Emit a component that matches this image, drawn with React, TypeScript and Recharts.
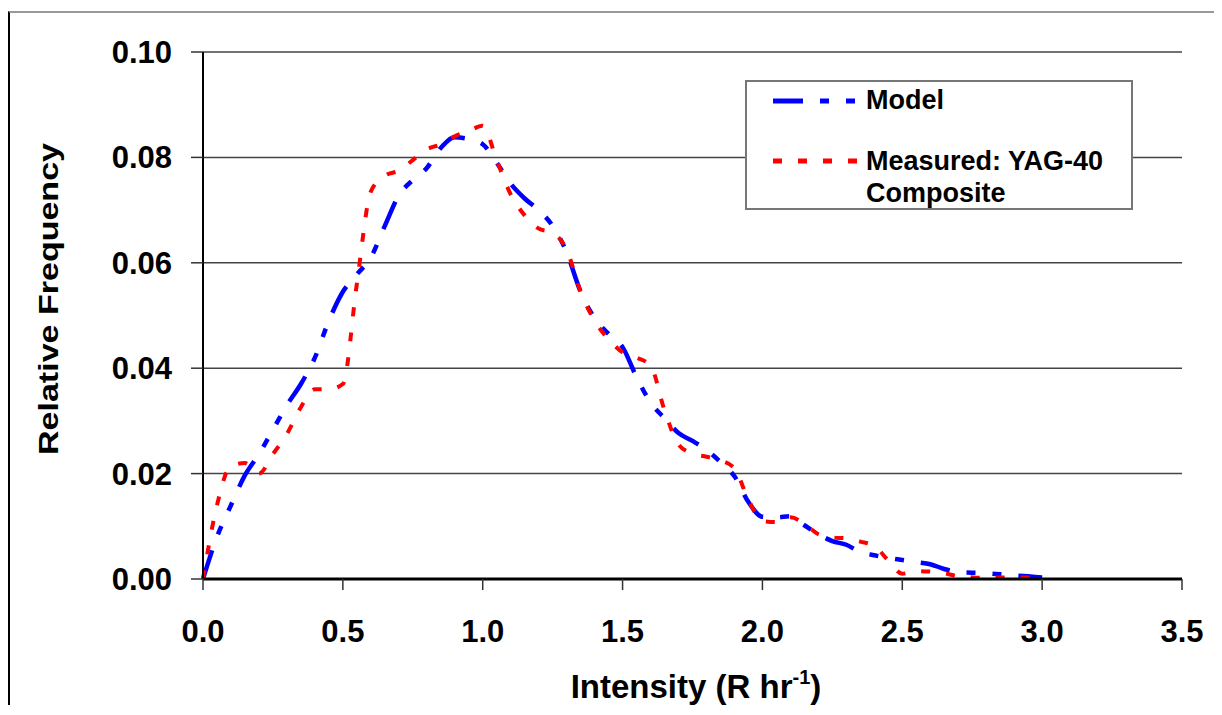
import React from "react";
import { LineChart, Line, XAxis, YAxis, CartesianGrid } from "recharts";

// intensity (R/hr), 0.05 steps
const intensity = [
  0.0, 0.05, 0.1, 0.15, 0.2, 0.25, 0.3, 0.35, 0.4, 0.45,
  0.5, 0.55, 0.6, 0.65, 0.7, 0.75, 0.8, 0.85, 0.9, 0.95,
  1.0, 1.05, 1.1, 1.15, 1.2, 1.25, 1.3, 1.35, 1.4, 1.45,
  1.5, 1.55, 1.6, 1.65, 1.7, 1.75, 1.8, 1.85, 1.9, 1.95,
  2.0, 2.05, 2.1, 2.15, 2.2, 2.25, 2.3, 2.35, 2.4, 2.45,
  2.5, 2.55, 2.6, 2.65, 2.7, 2.75, 2.8, 2.85, 2.9, 2.95, 3.0,
];

const model = [
  0.0, 0.008, 0.014, 0.0197, 0.0237, 0.0283, 0.033, 0.037, 0.042, 0.049,
  0.0545, 0.0578, 0.061, 0.067, 0.0728, 0.0757, 0.078, 0.0818, 0.0838, 0.0835,
  0.0825, 0.079, 0.075, 0.0722, 0.07, 0.067, 0.062, 0.0545, 0.0495, 0.0465,
  0.044, 0.0383, 0.0335, 0.0305, 0.0277, 0.0262, 0.0245, 0.0222, 0.0195, 0.0146,
  0.0118, 0.0117, 0.0119, 0.0102, 0.0085, 0.0072, 0.0065, 0.0051, 0.0045, 0.004,
  0.0036, 0.0032, 0.0028, 0.0019, 0.0013, 0.0012, 0.0011, 0.0009, 0.0007, 0.0005, 0.0003,
];

const measured = [
  0.0, 0.014, 0.0215, 0.022, 0.02, 0.0237, 0.0275, 0.0326, 0.036, 0.036,
  0.037, 0.056, 0.0735, 0.0765, 0.0775, 0.0795, 0.0815, 0.0825, 0.084, 0.085,
  0.086, 0.0795, 0.073, 0.069, 0.0665, 0.0657, 0.0625, 0.0545, 0.049, 0.0455,
  0.043, 0.042, 0.0405, 0.032, 0.0255, 0.0238, 0.0232, 0.0225, 0.021, 0.015,
  0.011, 0.0108, 0.0117, 0.0105, 0.0085, 0.0079, 0.0077, 0.0071, 0.0063, 0.0035,
  0.001, 0.0015, 0.0014, 0.0011, 0.0005, 0.0003, 0.0002, 0.0003, 0.0003, 0.0003, 0.0003,
];

const xTicks = [0, 0.5, 1.0, 1.5, 2.0, 2.5, 3.0, 3.5];
const yTicks = [0, 0.02, 0.04, 0.06, 0.08, 0.1];

const FONT = "'Liberation Sans', Arial, sans-serif";
const BLUE_DASH = "30 17 9 17 9 17";
const RED_DASH = "9 16";

const data = intensity.map((x, i) => ({ x, model: model[i], measured: measured[i] }));

const tickStyle = { fontFamily: FONT, fontWeight: 700, fontSize: 31, fill: "#000" };

const YTitle = () => (
  <text
    x={48}
    y={286}
    transform="rotate(-90 48 286)"
    textAnchor="middle"
    textLength={312}
    lengthAdjust="spacingAndGlyphs"
    style={{ fontFamily: FONT, fontWeight: 700, fontSize: 28, fill: "#000" }}
  >
    Relative Frequency
  </text>
);

const XTitle = () => (
  <text
    x={686}
    y={685}
    textAnchor="middle"
    style={{ fontFamily: FONT, fontWeight: 700, fontSize: 33, fill: "#000" }}
  >
    Intensity (R hr
    <tspan dy={-14} fontSize={20}>-1</tspan>
    <tspan dy={14}>)</tspan>
  </text>
);

const LegendBox = () => (
  <div
    style={{
      position: "absolute",
      left: 735,
      top: 67,
      width: 384,
      height: 126,
      border: "2px solid #777",
      background: "#fff",
    }}
  >
    <svg width={384} height={126} style={{ display: "block" }}>
      <line x1={26} y1={19} x2={108} y2={19} stroke="#0000ff" strokeWidth={5} strokeDasharray={BLUE_DASH} />
      <line x1={26} y1={79} x2={110} y2={79} stroke="#ff0000" strokeWidth={5} strokeDasharray={RED_DASH} />
      <g style={{ fontFamily: FONT, fontWeight: 700, fontSize: 27, fill: "#000" }}>
        <text x={119} y={27}>Model</text>
        <text x={119} y={88}>Measured: YAG-40</text>
        <text x={119} y={120}>Composite</text>
      </g>
    </svg>
  </div>
);

export default function App() {
  return (
    <div
      style={{
        position: "relative",
        top: 3,
        width: 1207,
        height: 695,
        borderLeft: "2px solid #000",
        borderTop: "2px solid #999",
        background: "#fff",
      }}
    >
      <LineChart
        width={1205}
        height={695}
        data={data}
        margin={{ top: 39, right: 33, bottom: 35, left: 0 }}
      >
        <CartesianGrid vertical={false} stroke="#444" strokeWidth={1.5} />
        <XAxis
          dataKey="x"
          type="number"
          domain={[0, 3.5]}
          ticks={xTicks}
          tickFormatter={(v: number) => v.toFixed(1)}
          height={94}
          tickSize={11}
          tickMargin={30}
          tick={tickStyle}
          axisLine={{ stroke: "#000", strokeWidth: 3 }}
          tickLine={{ stroke: "#333", strokeWidth: 1.5 }}
          label={<XTitle />}
        />
        <YAxis
          type="number"
          domain={[0, 0.1]}
          ticks={yTicks}
          tickFormatter={(v: number) => v.toFixed(2)}
          width={193}
          tickSize={12}
          tickMargin={19}
          tick={tickStyle}
          axisLine={{ stroke: "#000", strokeWidth: 2 }}
          tickLine={{ stroke: "#333", strokeWidth: 1.5 }}
          label={<YTitle />}
        />
        <Line
          type="monotone"
          dataKey="model"
          stroke="#0000ff"
          strokeWidth={4.5}
          strokeDasharray={BLUE_DASH}
          dot={false}
          isAnimationActive={false}
        />
        <Line
          type="monotone"
          dataKey="measured"
          stroke="#ff0000"
          strokeWidth={4}
          strokeDasharray={RED_DASH}
          dot={false}
          isAnimationActive={false}
        />
      </LineChart>
      <LegendBox />
    </div>
  );
}
